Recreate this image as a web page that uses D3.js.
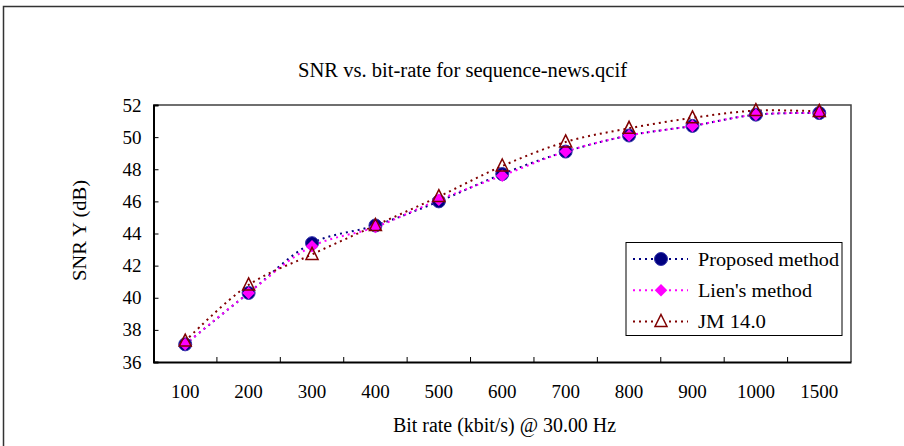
<!DOCTYPE html>
<html>
<head>
<meta charset="utf-8">
<script src="https://cdn.jsdelivr.net/npm/d3@7"></script>
<style>
  body { margin: 0; background: #fff; }
</style>
</head>
<body>
<div id="chart"></div>
<script>
// Chart data
const categories = ['100', '200', '300', '400', '500', '600', '700', '800', '900', '1000', '1500'];
const proposed = [37.1, 40.3, 43.4, 44.5, 46.0, 47.7, 49.1, 50.1, 50.7, 51.4, 51.5];
const lien = [37.1, 40.3, 43.2, 44.4, 46.1, 47.6, 49.1, 50.1, 50.7, 51.4, 51.5];
const jm = [37.3, 40.8, 42.7, 44.5, 46.3, 48.2, 49.7, 50.55, 51.2, 51.65, 51.6];
const yTicks = [36, 38, 40, 42, 44, 46, 48, 50, 52];

const seriesNames = ['Proposed method', "Lien's method", 'JM 14.0'];
const seriesColors = ['#000080', '#ff00ff', '#800000'];
const seriesShapes = ['circle', 'diamond', 'triangle'];

const FONT = '"Liberation Serif"';

const width = 904, height = 446;
const margin = { left: 153.5, top: 105, right: 904 - 851, bottom: 446 - 362 };

const svg = d3.select('#chart').append('svg')
    .attr('width', width)
    .attr('height', height);

// outer frame (cut off on right and bottom like the original)
svg.append('rect')
    .attr('x', 3.5).attr('y', 6.5)
    .attr('width', 1000).attr('height', 1000)
    .attr('fill', 'none')
    .attr('stroke', '#333')
    .attr('stroke-width', 1.5);

const x = d3.scaleBand()
    .domain(categories)
    .range([margin.left, width - margin.right])
    .padding(0);

const y = d3.scaleLinear()
    .domain([36, 52])
    .range([height - margin.bottom, margin.top]);

// plot border top/right
svg.append('path')
    .attr('d', `M${margin.left},${margin.top}H${width - margin.right}V${height - margin.bottom}`)
    .attr('fill', 'none')
    .attr('stroke', '#404040')
    .attr('stroke-width', 1.5);

// Y axis
const yAxis = svg.append('g')
    .attr('transform', `translate(${margin.left},0)`)
    .call(d3.axisLeft(y).tickValues(yTicks).tickSize(-5).tickPadding(12));
yAxis.select('.domain').attr('stroke', '#000').attr('stroke-width', 2);
yAxis.selectAll('.tick line').attr('stroke', '#000');
yAxis.selectAll('.tick text')
    .style('font-family', FONT)
    .style('font-size', '19px')
    .attr('fill', '#000');

// X axis: ticks between categories
const xAxis = svg.append('g')
    .attr('transform', `translate(0,${height - margin.bottom})`)
    .call(d3.axisBottom(x).tickSize(0));
xAxis.select('.domain').attr('stroke', '#000').attr('stroke-width', 2);
xAxis.selectAll('.tick text')
    .style('font-family', FONT)
    .style('font-size', '19px')
    .attr('dy', '0')
    .attr('y', 35.5)
    .attr('fill', '#000');
xAxis.selectAll('.sep')
    .data(categories.slice(1))
    .enter().append('line')
    .attr('class', 'sep')
    .attr('x1', d => x(d)).attr('x2', d => x(d))
    .attr('y1', 0).attr('y2', -5)
    .attr('stroke', '#000');

// Title and axis labels
svg.append('text')
    .attr('x', 462.5).attr('y', 76.5)
    .attr('text-anchor', 'middle')
    .attr('textLength', 329)
    .attr('lengthAdjust', 'spacingAndGlyphs')
    .style('font-family', FONT)
    .style('font-size', '20px')
    .text('SNR vs. bit-rate for sequence-news.qcif');

svg.append('text')
    .attr('transform', 'translate(86,230.5) rotate(-90)')
    .attr('text-anchor', 'middle')
    .attr('textLength', 101)
    .attr('lengthAdjust', 'spacingAndGlyphs')
    .style('font-family', FONT)
    .style('font-size', '19px')
    .text('SNR Y (dB)');

svg.append('text')
    .attr('x', 504.5).attr('y', 431.5)
    .attr('text-anchor', 'middle')
    .attr('textLength', 223)
    .attr('lengthAdjust', 'spacingAndGlyphs')
    .style('font-family', FONT)
    .style('font-size', '20px')
    .text('Bit rate (kbit/s) @ 30.00 Hz');

// Lines
const allSeries = [proposed, lien, jm];
const line = d3.line()
    .x((d, i) => x(categories[i]) + x.bandwidth() / 2)
    .y(d => y(d))
    .curve(d3.curveCatmullRom.alpha(0.5));

const lines = svg.append('g');
allSeries.forEach((vals, s) => {
    lines.append('path')
        .datum(vals)
        .attr('d', line)
        .attr('fill', 'none')
        .attr('stroke', seriesColors[s])
        .attr('stroke-width', 2)
        .attr('stroke-dasharray', '2,4');
});

// Marker drawing
function drawMarker(g, shape, color, cx, cy) {
    if (shape === 'circle') {
        g.append('circle')
            .attr('cx', cx).attr('cy', cy).attr('r', 6.5)
            .attr('fill', color)
            .attr('stroke', '#3333aa')
            .attr('stroke-width', 1);
    } else if (shape === 'diamond') {
        g.append('path')
            .attr('d', d3.symbol().type(d3.symbolDiamond2).size(100)())
            .attr('transform', `translate(${cx},${cy})`)
            .attr('fill', color);
    } else {
        g.append('path')
            .attr('d', 'M0,-7L6,5H-6Z')
            .attr('transform', `translate(${cx},${cy})`)
            .attr('fill', 'none')
            .attr('stroke', color)
            .attr('stroke-width', 1.5);
    }
}

const markers = svg.append('g');
allSeries.forEach((vals, s) => {
    vals.forEach((v, i) => {
        drawMarker(markers, seriesShapes[s], seriesColors[s],
            x(categories[i]) + x.bandwidth() / 2, y(v));
    });
});

// Legend
const legend = svg.append('g');
legend.append('rect')
    .attr('x', 626).attr('y', 242.5)
    .attr('width', 216).attr('height', 93)
    .attr('fill', '#fff')
    .attr('stroke', '#000')
    .attr('stroke-width', 1);

const legendY = d3.scalePoint()
    .domain(seriesNames)
    .range([259, 321.5]);
const legendWidths = [141, 114, 68];

seriesNames.forEach((name, s) => {
    const ly = legendY(name);
    legend.append('line')
        .attr('x1', 633).attr('x2', 688)
        .attr('y1', ly).attr('y2', ly)
        .attr('stroke', seriesColors[s])
        .attr('stroke-width', 2)
        .attr('stroke-dasharray', '2,4');
    if (seriesShapes[s] === 'triangle') {
        legend.append('rect').attr('x', 655).attr('y', ly - 8).attr('width', 12).attr('height', 14).attr('fill', '#fff');
    }
    drawMarker(legend, seriesShapes[s], seriesColors[s], 661, ly);
    legend.append('text')
        .attr('x', 698).attr('y', ly + 6.5)
        .attr('textLength', legendWidths[s])
        .attr('lengthAdjust', 'spacingAndGlyphs')
        .style('font-family', FONT)
        .style('font-size', '19px')
        .text(name);
});
</script>
</body>
</html>
